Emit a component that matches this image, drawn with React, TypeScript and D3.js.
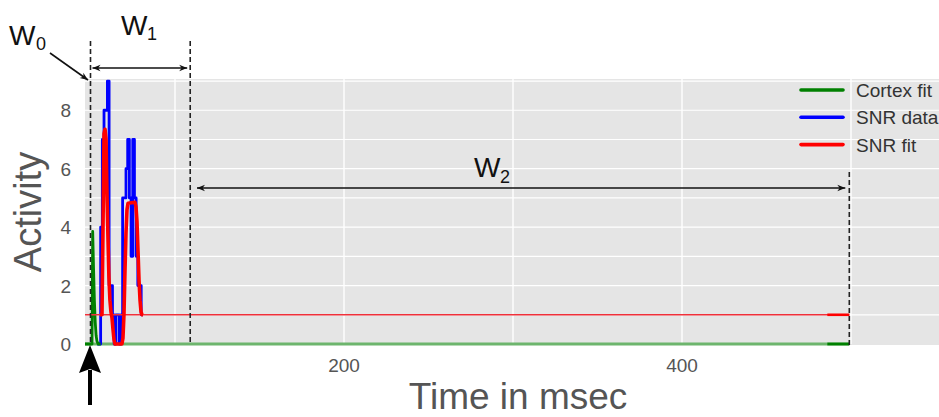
import React from "react";
import * as d3 from "d3";

// ---- data ----
const timeTicks = [200, 400];
const timeGrid = [100, 200, 300, 400, 500, 600];
const activityTicks = [0, 2, 4, 6, 8];
const activityGrid = [1, 2, 3, 4, 5, 6, 7, 8, 9];

// SNR data (1 ms samples, step)
const snrTime = [54, 55, 56, 57, 58, 59, 60, 61, 62, 63, 64, 65, 66, 67, 68, 69, 70, 71, 72, 73, 74, 75, 76, 77, 78, 79, 80, 81];
const snrValue = [0, 0, 4, 7, 8, 8, 9, 2, 2, 1, 0, 1, 1, 0, 1, 5, 5, 6, 7, 5, 3, 7, 5, 3, 2, 2, 1, 1];

// SNR fit (early window)
const snrFitTime = [55.6, 56.8, 57.4, 58.0, 58.6, 59.2, 59.8, 60.4, 60.9, 61.5, 62.1, 62.7, 63.3, 63.9, 64.5, 68.6, 69.2, 69.8, 70.4, 71.0, 71.6, 72.2, 76.3, 76.9, 77.5, 78.1, 78.7, 79.3, 79.9, 80.5, 81.1];
const snrFitValue = [1, 1, 4, 7.2, 7.35, 7.0, 5, 3.5, 2.3, 1.5, 1.1, 0.9, 0.5, 0.15, 0, 0, 0.2, 1, 2.5, 3.8, 4.6, 4.82, 4.85, 4.7, 4.2, 3.2, 2.2, 1.5, 1.1, 1, 1];

// Cortex fit (early window)
const cortexFitTime = [46.7, 50.9, 51.3, 51.8, 52.3, 52.8, 53.3, 53.8, 54.5, 56];
const cortexFitValue = [0, 0, 3.85, 2.6, 1.5, 0.75, 0.3, 0.1, 0, 0];

// late window fits
const lateFitTime = [486, 499];
const lateCortexValue = [0, 0];
const lateSnrValue = [1, 1];

// baselines across the whole range
const baseTime = [46.7, 499];
const cortexBase = [0, 0];
const snrBase = [1, 1];

// window markers W0, W1 end, W2 end
const windowMarks = [50, 109, 499];
const w2Start = 113;

const legendLabels = ["Cortex fit", "SNR data", "SNR fit"];
const legendColors = ["#008000", "#0000ff", "#ff0000"];

export default function App() {
  const W = 939, H = 417;
  const plotLeft = 85, plotTop = 79, plotBottom = 344;
  const x = d3.scaleLinear().domain([0, 500]).range([6, 851]);
  const y = d3.scaleLinear().domain([0, 9.07]).range([plotBottom, plotTop]);

  const mk = (ts: number[], vs: number[], curve: any = d3.curveLinear) =>
    d3.line<number>().x((_, i) => x(ts[i])).y((v) => y(v)).curve(curve)(vs) || "";

  const font = "'Liberation Sans', Arial, sans-serif";
  const dash = "5,3";

  return (
    <svg width={W} height={H} style={{ position: "absolute", left: 0, top: 0 }} fontFamily={font}>
      <defs>
        <marker id="ah" viewBox="0 0 10 10" refX="10" refY="5" markerWidth="11" markerHeight="8" markerUnits="userSpaceOnUse" orient="auto-start-reverse">
          <path d="M0,1 L10,5 L0,9 L3,5 Z" fill="#111" />
        </marker>
        <clipPath id="pc">
          <rect x={plotLeft} y={plotTop - 5} width={W - plotLeft} height={plotBottom - plotTop + 8} />
        </clipPath>
      </defs>
      <rect x={plotLeft} y={plotTop} width={W - plotLeft} height={plotBottom - plotTop + 1} fill="#e5e5e5" />
      {activityGrid.map((v) => (
        <line key={"h" + v} x1={plotLeft} x2={W} y1={y(v)} y2={y(v)} stroke="#fff" strokeWidth={1.2} />
      ))}
      {timeGrid.map((v) => (
        <line key={"v" + v} x1={x(v)} x2={x(v)} y1={plotTop} y2={plotBottom} stroke="#fff" strokeWidth={1.4} />
      ))}
      <g clipPath="url(#pc)" fill="none" strokeLinejoin="round">
        <path d={mk(baseTime, cortexBase)} stroke="#6db56d" strokeWidth={2.8} />
        <path d={mk(snrTime, snrValue, d3.curveStepAfter)} stroke="#0000ff" strokeWidth={2.8} />
        <path d={mk(cortexFitTime, cortexFitValue)} stroke="#008000" strokeWidth={2.8} />
        <path d={mk(lateFitTime, lateCortexValue)} stroke="#008000" strokeWidth={2.8} />
        <path d={mk(baseTime, snrBase)} stroke="#f0303a" strokeWidth={1.6} />
        <path d={mk(snrFitTime, snrFitValue)} stroke="#ff0000" strokeWidth={3.6} />
        <path d={mk(lateFitTime, lateSnrValue)} stroke="#ff0000" strokeWidth={2.6} />
      </g>
      {/* legend */}
      {legendLabels.map((l, i) => (
        <g key={l}>
          <line x1={801} x2={843} y1={90 + i * 27.3} y2={90 + i * 27.3} stroke={legendColors[i]} strokeWidth={3.6} strokeLinecap="round" />
          <text x={856} y={97 + i * 27.3} fontSize={19} fill="#333">{l}</text>
        </g>
      ))}
      {/* tick labels */}
      {activityTicks.map((v) => (
        <text key={"yt" + v} x={71} y={y(v) + 7} fontSize={19} fill="#555" textAnchor="end">{v}</text>
      ))}
      {timeTicks.map((v) => (
        <text key={"xt" + v} x={x(v)} y={372} fontSize={19} fill="#555" textAnchor="middle">{v}</text>
      ))}
      <text x={518} y={409} fontSize={37} fill="#555" textAnchor="middle">Time in msec</text>
      <text transform="translate(41,212) rotate(-90)" fontSize={38} fill="#555" textAnchor="middle">Activity</text>
      {/* window dashed lines */}
      <line x1={x(windowMarks[0])} x2={x(windowMarks[0])} y1={41} y2={plotBottom + 1} stroke="#222" strokeWidth={1.6} strokeDasharray={dash} />
      <line x1={x(windowMarks[1])} x2={x(windowMarks[1])} y1={41} y2={plotBottom + 1} stroke="#222" strokeWidth={1.6} strokeDasharray={dash} />
      <line x1={x(windowMarks[2])} x2={x(windowMarks[2])} y1={172} y2={plotBottom + 1} stroke="#222" strokeWidth={1.6} strokeDasharray={dash} />
      {/* W1 arrow */}
      <line x1={x(windowMarks[0]) + 2} x2={x(windowMarks[1]) - 3} y1={68} y2={68} stroke="#111" strokeWidth={1.6} markerStart="url(#ah)" markerEnd="url(#ah)" />
      {/* W2 arrow */}
      <line x1={x(w2Start)} x2={x(windowMarks[2]) - 4} y1={188} y2={188} stroke="#111" strokeWidth={1.6} markerStart="url(#ah)" markerEnd="url(#ah)" />
      {/* W0 pointer */}
      <line x1={50} y1={53} x2={88} y2={80} stroke="#111" strokeWidth={1.6} markerEnd="url(#ah)" />
      {/* bottom arrow */}
      <line x1={90} x2={90} y1={405} y2={370} stroke="#000" strokeWidth={4} />
      <path d="M90,345 L101,373 L90,369 L79,373 Z" fill="#000" />
      {/* W labels */}
      <text x={9} y={45} fontSize={28} fill="#111">W</text>
      <text x={36} y={50} fontSize={18} fill="#111">0</text>
      <text x={121} y={35} fontSize={28} fill="#111">W</text>
      <text x={147} y={40} fontSize={18} fill="#111">1</text>
      <text x={474} y={177} fontSize={28} fill="#111">W</text>
      <text x={500} y={183} fontSize={18} fill="#111">2</text>
    </svg>
  );
}
